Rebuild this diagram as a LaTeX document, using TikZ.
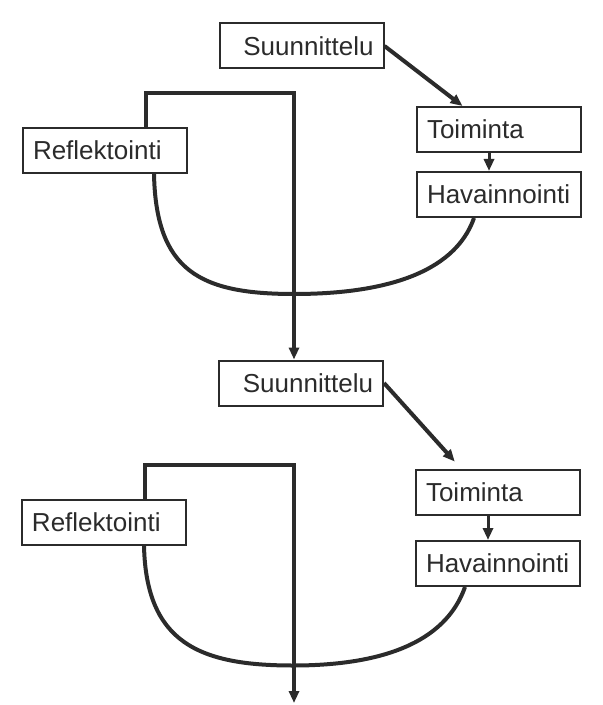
\documentclass[tikz,border=0pt]{standalone}
\usepackage{fontspec}
\setmainfont{Liberation Sans}
\usetikzlibrary{arrows.meta,calc,positioning}
\definecolor{ink}{HTML}{2B2B2B}

\begin{document}
\begin{tikzpicture}[x=0.5pt,y=-0.5pt,>={Triangle[length=6pt,width=5pt]},
    line/.style={draw=ink,line width=2pt},
    box/.style={draw=ink,line width=1pt,fill=white,text=ink,font=\fontsize{13}{15}\selectfont,inner xsep=5pt,text width=72pt,minimum height=22.5pt,align=left}]

    \useasboundingbox (0,0) rectangle (603,705);

    % first cycle
    \node[box,align=right] (s1) at (301.5,46) {Suunnittelu};
    \node[box] (t1) at (499,129.5) {Toiminta};
    \node[box] (h1) [below=9pt of t1] {Havainnointi};
    \node[box] (r1) at (105,150.5) {Reflektointi};

    % second cycle
    \node[box,align=right] (s2) at (301,383) {Suunnittelu};
    \node[box] (t2) at (498,492.5) {Toiminta};
    \node[box] (h2) [below=12pt of t2] {Havainnointi};
    \node[box] (r2) at (104,522) {Reflektointi};

    \coordinate (seur1) at ([xshift=-3.5pt]s2.north);
    \coordinate (seur2) at (294,703);

    \foreach \c/\hx/\rx/\gap in {1/58/132/0pt, 2/50/123/5pt}{
        \coordinate (b\c) at ($(r\c.south west)+(272,120)$);

        \draw[line,->,shorten >=\gap] (s\c.east) -- ($(t\c.north west)!0.28!(t\c.north east)$);
        \draw[draw=ink,line width=1.5pt,->] ([xshift=-5pt]t\c.south) -- ([xshift=-5pt]h\c.north);

        \draw[line,->] ($(r\c.north west)+(124,0)$) -- ++(0,-34) -| (seur\c);

        \draw[line] ($(h\c.south west)+(\hx,0)$) .. controls +(-20,57) and +(86,0) .. (b\c)
            .. controls +(-94,0) and +(2,97) .. ($(r\c.south west)+(\rx,0)$);
    }

\end{tikzpicture}
\end{document}
